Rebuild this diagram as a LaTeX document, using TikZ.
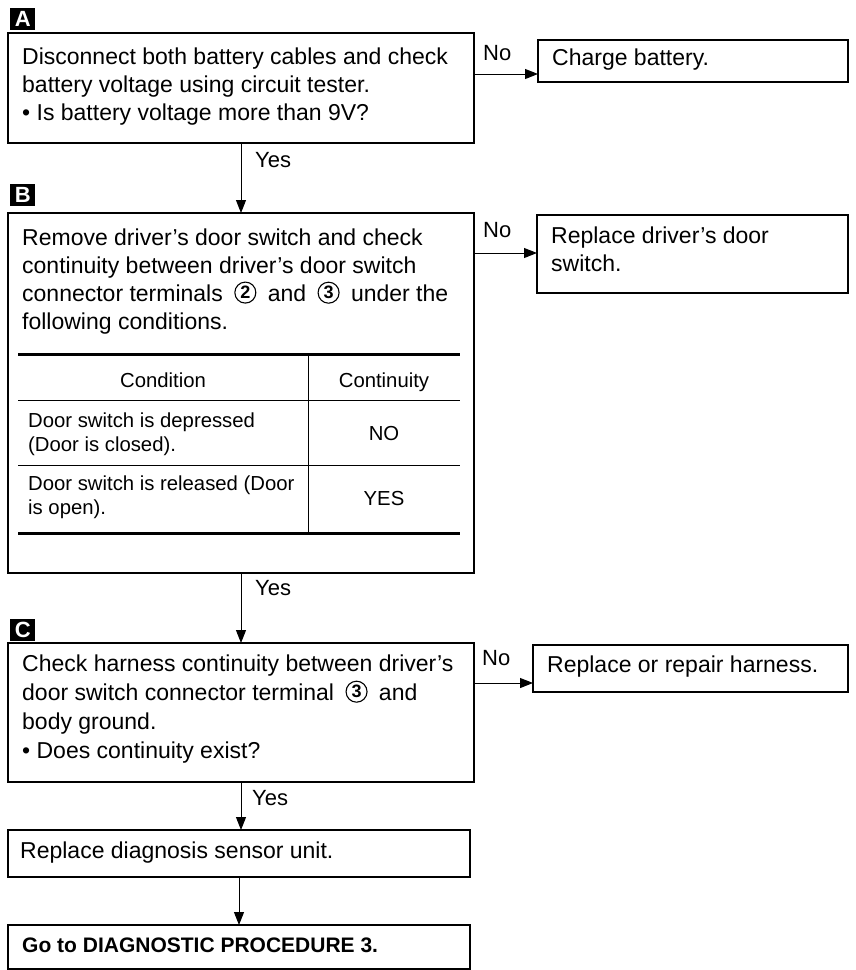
\documentclass[tikz,border=0pt]{standalone}
\usepackage{fontspec}
\setmainfont{Liberation Sans}
\usetikzlibrary{arrows.meta,positioning,calc}
\newcommand{\bigtxt}{\fontsize{23}{28}\selectfont}
\newcommand{\tabtxt}{\fontsize{20.3}{24}\selectfont}
% circled terminal number
\newcommand{\cnum}[1]{\hspace{5pt}\tikz[baseline={([yshift=-2.5pt]cn.base)}]\node[circle,draw,line width=1.1pt,inner sep=0pt,minimum size=21pt,font=\bfseries\fontsize{18}{18}\selectfont] (cn) {#1};\hspace{5pt}}

\begin{document}
\begin{tikzpicture}[x=1pt,y=-1pt,
  stepbox/.style={draw, line width=1.5pt, anchor=north west, inner sep=0pt, outer sep=0pt},
  para/.style={anchor=north west, align=left, inner sep=0pt, font=\bigtxt},
  cell/.style={anchor=north west, align=left, inner sep=0pt, font=\tabtxt},
  headcell/.style={anchor=base, inner sep=0pt, font=\tabtxt},
  tag/.style={fill=black, text=white, anchor=north west, minimum width=25pt, minimum height=22pt, inner sep=0pt, font=\bfseries\fontsize{22}{22}\selectfont},
  flow/.style={line width=1pt, -{Triangle[length=13pt,width=10pt]}},
  answer/.style={anchor=base west, inner sep=0pt, font=\fontsize{22}{22}\selectfont}]
\useasboundingbox (0,0) rectangle (856,970);

% step A
\node[tag] (tagA) at (10,8) {A};
\node[stepbox, minimum width=466pt, minimum height=110pt] (stepA) at (8,33) {};
\node[para] (txtA) at (22,47.5) {Disconnect both battery cables and check\\battery voltage using circuit tester.\\• Is battery voltage more than 9V?};
\node[stepbox, minimum width=310pt, minimum height=42pt] (charge) at (538,40) {};
\node[para] (txtCharge) at (552,48.5) {Charge battery.};
\coordinate (noA) at (474,74);
\node[answer] (noAlbl) at (483,60) {No};
\draw[flow] (noA) -- (noA -| charge.west);

% step B with table
\node[tag] (tagB) at (10,184) {B};
\node[stepbox, minimum width=466pt, minimum height=360pt] (stepB) at (8,213) {};
\node[para] (txtB) at (22,228.5) {Remove driver’s door switch and check\\continuity between driver’s door switch\\connector terminals \cnum{2} and \cnum{3} under the\\following conditions.};
\foreach \y/\w in {354/3pt, 400/0.9pt, 465/0.9pt, 533/3pt}
  \draw[line width=\w] (18,\y) -- (460,\y);
\draw[line width=0.9pt] (308,354) -- (308,533);
\node[headcell] (hCond) at (163,387) {Condition};
\node[headcell] (hCont) at (384,387) {Continuity};
\node[cell] (rowOne) at (28,412.5) {Door switch is depressed\\(Door is closed).};
\node[headcell] (valOne) at (384,440) {NO};
\node[cell] (rowTwo) at (28,476) {Door switch is released (Door\\is open).};
\node[headcell] (valTwo) at (384,505) {YES};
\node[stepbox, minimum width=311pt, minimum height=78pt] (swap) at (537,215) {};
\node[para] (txtSwap) at (551,226.5) {Replace driver’s door\\switch.};
\coordinate (noB) at (474,253);
\node[answer] (noBlbl) at (483,237) {No};
\draw[flow] (noB) -- (noB -| swap.west);

% A -> B
\node[answer] (yesA) at (255,167) {Yes};
\draw[flow] (stepA.south) -- (stepA.south |- stepB.north);

% step C
\node[tag] (tagC) at (10,619) {C};
\node[stepbox, minimum width=466pt, minimum height=139pt] (stepC) at (8,643) {};
\node[para, font=\fontsize{23}{29}\selectfont] (txtC) at (22,654.5) {Check harness continuity between driver’s\\door switch connector terminal \cnum{3} and\\body ground.\\• Does continuity exist?};
\node[stepbox, minimum width=315pt, minimum height=47pt] (harness) at (533,645) {};
\node[para] (txtHarness) at (547,656) {Replace or repair harness.};
\coordinate (noC) at (474,683);
\node[answer] (noClbl) at (482,665) {No};
\draw[flow] (noC) -- (noC -| harness.west);

% B -> C
\node[answer] (yesB) at (255,595) {Yes};
\draw[flow] (stepB.south) -- (stepB.south |- stepC.north);

% C -> sensor -> next procedure
\node[answer] (yesC) at (252,805) {Yes};
\node[stepbox, minimum width=462pt, minimum height=47pt] (sensor) at (8,830) {};
\node[para] (txtSensor) at (20,841.5) {Replace diagnosis sensor unit.};
\draw[flow] (stepC.south) -- (stepC.south |- sensor.north);
\node[stepbox, minimum width=462pt, minimum height=44pt] (goto) at (8,925) {};
\node[para, font=\bfseries\fontsize{21}{25}\selectfont] (txtGoto) at (22,938) {Go to DIAGNOSTIC PROCEDURE 3.};
\draw[flow] (sensor.south) -- (sensor.south |- goto.north);
\end{tikzpicture}
\end{document}
